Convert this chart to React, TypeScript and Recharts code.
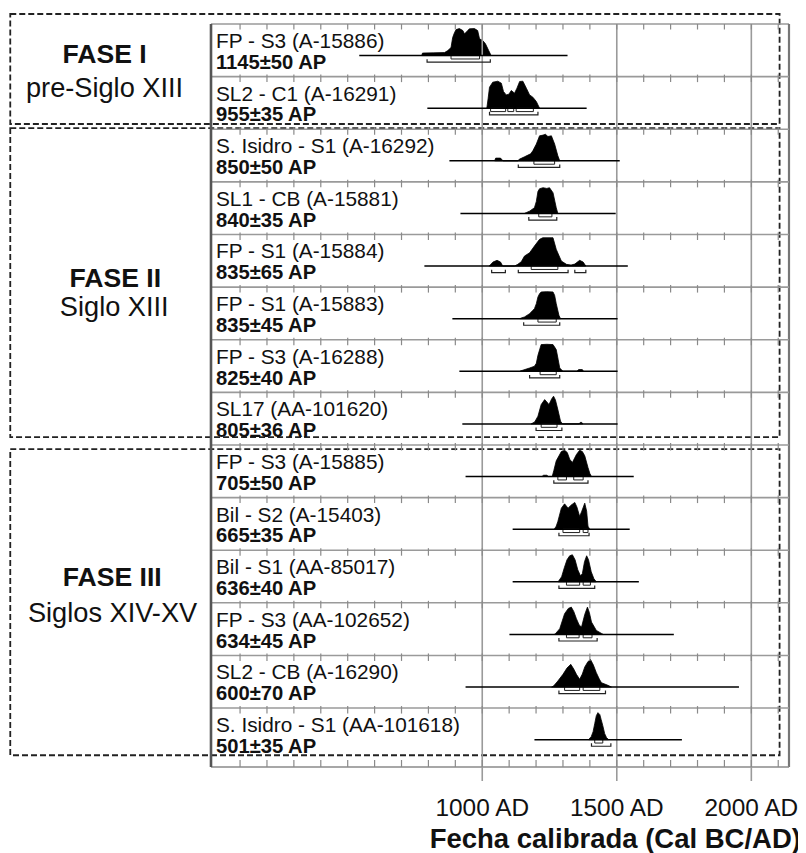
import React from 'react';
import {
  ComposedChart,
  XAxis,
  YAxis,
  Area,
  Line,
  Scatter,
  ReferenceLine,
  ReferenceArea,
} from 'recharts';

const FONT = '"Liberation Sans", Arial, Helvetica, sans-serif';

// ---------- DATA ----------
const SAMPLE_NAMES = [
  'FP - S3 (A-15886)',
  'SL2 - C1 (A-16291)',
  'S. Isidro - S1 (A-16292)',
  'SL1 - CB (A-15881)',
  'FP - S1 (A-15884)',
  'FP - S1 (A-15883)',
  'FP - S3 (A-16288)',
  'SL17 (AA-101620)',
  'FP - S3 (A-15885)',
  'Bil - S2 (A-15403)',
  'Bil - S1 (AA-85017)',
  'FP - S3 (AA-102652)',
  'SL2 - CB (A-16290)',
  'S. Isidro - S1 (AA-101618)',
];

const SAMPLE_DATES = [
  '1145±50 AP',
  '955±35 AP',
  '850±50 AP',
  '840±35 AP',
  '835±65 AP',
  '835±45 AP',
  '825±40 AP',
  '805±36 AP',
  '705±50 AP',
  '665±35 AP',
  '636±40 AP',
  '634±45 AP',
  '600±70 AP',
  '501±35 AP',
];

const PHASE_TITLES = ['FASE I', 'FASE II', 'FASE III'];
const PHASE_SUBTITLES = ['pre-Siglo XIII', 'Siglo XIII', 'Siglos XIV-XV'];

// full calibration range drawn (cal AD)
const RANGE_LINES: [number, number][] = [
  [543, 1317], [796, 1388], [878, 1511], [919, 1496], [785, 1541], [889, 1503], [915, 1503],
  [926, 1503], [938, 1563], [1113, 1548], [1113, 1582], [1101, 1712], [938, 1954], [1194, 1742],
];

// 68.2% ranges
const SIGMA1: [number, number][][] = [
  [[884, 990]],
  [[1031, 1087], [1095, 1117], [1126, 1190]],
  [[1192, 1269]],
  [[1210, 1259]],
  [[1182, 1281]],
  [[1207, 1275]],
  [[1215, 1275]],
  [[1219, 1278]],
  [[1281, 1313], [1340, 1375]],
  [[1300, 1362], [1375, 1393]],
  [[1313, 1362], [1375, 1402]],
  [[1313, 1360], [1375, 1408]],
  [[1306, 1362], [1375, 1437]],
  [[1418, 1448]],
];

// 95.4% ranges
const SIGMA2: [number, number][][] = [
  [[795, 1030]],
  [[1027, 1207]],
  [[1134, 1288]],
  [[1173, 1277]],
  [[1035, 1086], [1134, 1319], [1344, 1385]],
  [[1154, 1288]],
  [[1176, 1288]],
  [[1200, 1296]],
  [[1266, 1393]],
  [[1285, 1397]],
  [[1285, 1418]],
  [[1285, 1427]],
  [[1285, 1458]],
  [[1406, 1478]],
];

// calibrated probability distributions: [cal AD, relative probability (peak ~28)]
const DIST_0: [number, number][] = [[775,0],[778,2.5],[820,2.7],[860,3],[872,5],[884,8],[890,18],[897,23],[903,26],[915,27],[928,25],[934,21.7],[943,24],[952,26.7],[971,27],[983,25],[990,16.7],[1002,15],[1012,11.7],[1024,5],[1033,0]];
const DIST_1: [number, number][] = [[1017,0],[1022,10],[1027,21],[1039,26],[1058,27],[1071,25],[1079,16.7],[1089,13.3],[1099,14],[1108,17.7],[1120,15],[1129,20],[1139,26.7],[1151,27],[1164,20],[1176,13.3],[1188,11],[1201,6.7],[1213,0]];
const DIST_2: [number, number][] = [[1046,0],[1050,2.7],[1068,2.7],[1077,0],[1132,0],[1139,1.7],[1157,4],[1170,5.7],[1180,7],[1188,10],[1201,16.7],[1213,25],[1226,25.7],[1235,26.5],[1244,24.3],[1257,25],[1269,16.7],[1281,5],[1288,0]];
const DIST_3: [number, number][] = [[1157,0],[1165,1],[1176,2.3],[1194,5.7],[1201,12],[1207,22],[1213,24.7],[1226,25.7],[1240,25],[1250,25.7],[1263,20.7],[1270,12],[1275,5.7],[1281,0]];
const DIST_4: [number, number][] = [[1026,0],[1040,4],[1055,5.7],[1068,4],[1076,0],[1120,0],[1132,1.7],[1145,4.3],[1157,10],[1176,13.3],[1194,20],[1213,26.7],[1225,28.3],[1263,28.3],[1275,16.7],[1294,5],[1313,1.7],[1330,1],[1344,2],[1362,5.7],[1375,4],[1385,0]];
const DIST_5: [number, number][] = [[1140,0],[1145,0.7],[1157,1.7],[1176,5],[1188,8.3],[1194,10],[1201,15],[1207,21.7],[1213,25],[1219,26.7],[1240,27],[1263,26.7],[1269,23.3],[1275,15],[1285,3.3],[1291,0]];
const DIST_6: [number, number][] = [[1140,0],[1150,1],[1176,3.3],[1194,5],[1201,8],[1207,16],[1219,26.7],[1240,27],[1263,26.7],[1275,21.7],[1282,12],[1288,3.3],[1300,0],[1352,0],[1358,1.7],[1372,1.7],[1376,0]];
const DIST_7: [number, number][] = [[1182,0],[1195,2],[1207,7.7],[1219,19.3],[1232,24.3],[1240,22],[1248,19.3],[1258,25],[1265,27.7],[1272,24],[1281,14.3],[1291,2.7],[1298,0],[1360,0],[1364,1.5],[1370,1.5],[1374,0]];
const DIST_8: [number, number][] = [[1222,0],[1228,1.3],[1240,1.3],[1246,0],[1260,0],[1266,6],[1275,15.7],[1294,25],[1306,26.3],[1316,24],[1325,17.3],[1335,14],[1350,22],[1362,26.3],[1372,25],[1381,20.7],[1393,9],[1400,3],[1406,0]];
const DIST_9: [number, number][] = [[1268,0],[1275,3],[1281,7.7],[1294,21],[1306,25.3],[1319,21],[1330,24],[1344,26.7],[1352,22],[1362,12.7],[1370,18],[1381,26],[1388,18],[1393,3],[1399,0]];
const DIST_10: [number, number][] = [[1282,0],[1295,5],[1305,14],[1315,22],[1325,26],[1335,27],[1345,22],[1355,12],[1365,6],[1372,8],[1380,20],[1388,26],[1395,22],[1405,10],[1415,3],[1424,0]];
const DIST_11: [number, number][] = [[1268,0],[1273,1],[1288,5.7],[1306,20.7],[1320,26],[1331,27.3],[1340,23],[1350,15.7],[1360,9.5],[1369,7.3],[1381,20],[1391,27.3],[1398,22],[1406,12.3],[1424,4],[1443,1],[1449,0]];
const DIST_12: [number, number][] = [[1258,0],[1265,1],[1281,6],[1300,12.7],[1315,19],[1329,22.7],[1340,18],[1350,12.7],[1362,7.7],[1372,13],[1381,20],[1392,25],[1402,27.7],[1413,22],[1424,14.3],[1435,8],[1443,4.3],[1467,1.7],[1480,0]];
const DIST_13: [number, number][] = [[1395,0],[1405,3],[1412,8],[1418,16],[1424,24],[1430,27],[1437,25],[1442,20],[1448,14],[1455,6],[1462,2],[1470,0]];

const DISTS = [DIST_0, DIST_1, DIST_2, DIST_3, DIST_4, DIST_5, DIST_6, DIST_7, DIST_8, DIST_9, DIST_10, DIST_11, DIST_12, DIST_13];

const AXIS_TICKS = [1000, 1500, 2000];
const MINOR_TICKS = [100, 200, 300, 400, 500, 600, 700, 800, 900, 1000, 1100, 1200, 1300, 1400, 1500, 1600, 1700, 1800, 1900, 2000, 2100];

// ---------- LAYOUT / STYLE ----------
const X_DOMAIN: [number, number] = [-8, 2140];
const ROW_COUNT = SAMPLE_NAMES.length;
const Y_MAX = 14.12;
const ROW_PX = 52.62;
const PX = 1 / ROW_PX;
const BASE = 0.6;
const rowBase = (i: number) => i + BASE;

// phase dashed boxes (x in cal AD scale, y in row units) and label placement
const PHASE_BOX_X: [number, number] = [-754, 2105];
const PHASE_BOX_Y: [number, number][] = [[-0.19, 1.9], [1.977, 7.852], [8.08, 13.897]];
const PHASE_LABEL_POS = [
  { dx1: 94.3, dx2: 94.3, dy1: 49.3, dy2: 82.7 },
  { dx1: 105, dx2: 104, dy1: 159.3, dy2: 188 },
  { dx1: 102, dx2: 102.3, dy1: 137, dy2: 172.7 },
];

const GRID = '#9a9a9a';
const INK = '#111';

const ROW_INDEX = SAMPLE_NAMES.map((_, i) => i);
const TICK_POINTS = ROW_INDEX.flatMap((r) => MINOR_TICKS.map((x) => ({ x, y: r })));
const BOTTOM_TICK_POINTS = MINOR_TICKS.map((x) => ({ x, y: Y_MAX }));

const TickDown = (p: any) => (
  <line x1={p.cx} x2={p.cx} y1={p.cy - (p.payload && p.payload.y === 0 ? 0 : 2)} y2={p.cy + 5.5} stroke="#8a8a8a" strokeWidth={1.2} />
);
const TickUp = (p: any) => (
  <line x1={p.cx} x2={p.cx} y1={p.cy - 7} y2={p.cy} stroke="#8a8a8a" strokeWidth={1.2} />
);

const RowLabel = (props: any) => {
  const { x, y, payload } = props;
  const i = payload.value as number;
  if (i < 0 || i >= ROW_COUNT) return null;
  return (
    <g>
      <text x={x + 5} y={y + 24} fontSize={20.8} fontFamily={FONT} fill={INK}>
        {SAMPLE_NAMES[i]}
      </text>
      <text x={x + 5} y={y + 44.8} fontSize={20.2} fontWeight="bold" fontFamily={FONT} fill={INK}>
        {SAMPLE_DATES[i]}
      </text>
    </g>
  );
};

const XTick = (props: any) => {
  const { x, y, payload } = props;
  return (
    <text x={x} y={y + 33} textAnchor="middle" fontSize={24.4} fontFamily={FONT} fill={INK}>
      {`${payload.value} AD`}
    </text>
  );
};

const AxisTitle = (props: any) => {
  const vb = props.viewBox || {};
  return (
    <text x={vb.x + vb.width + 12} y={vb.y + 81} textAnchor="end" fontSize={27.5} fontWeight="bold" fontFamily={FONT} fill={INK}>
      Fecha calibrada (Cal BC/AD)
    </text>
  );
};

const PhaseLabel = (props: any) => {
  const vb = props.viewBox || {};
  const { idx } = props;
  const pos = PHASE_LABEL_POS[idx];
  return (
    <g>
      <text x={vb.x + pos.dx1} y={vb.y + pos.dy1} textAnchor="middle" fontSize={26.6} fontWeight="bold" fontFamily={FONT} fill={INK}>
        {PHASE_TITLES[idx]}
      </text>
      <text x={vb.x + pos.dx2} y={vb.y + pos.dy2} textAnchor="middle" fontSize={27.2} fontFamily={FONT} fill={INK}>
        {PHASE_SUBTITLES[idx]}
      </text>
    </g>
  );
};

const distData = (i: number) =>
  DISTS[i].map(([x, p]) => ({ x, band: [rowBase(i), rowBase(i) - p * PX] }));

export default function App() {
  return (
    <div style={{ width: 798, height: 845, fontFamily: FONT }}>
      <ComposedChart width={798} height={845} margin={{ top: 16, right: 17, bottom: 0, left: 203 }}>
        <XAxis
          type="number"
          dataKey="x"
          domain={X_DOMAIN}
          allowDataOverflow
          ticks={AXIS_TICKS}
          height={86}
          tickSize={14}
          tickLine={{ stroke: GRID, strokeWidth: 1.6 }}
          axisLine={{ stroke: '#8a8a8a', strokeWidth: 1.6 }}
          tick={<XTick />}
          label={<AxisTitle />}
        />
        <YAxis
          type="number"
          dataKey="y"
          domain={[0, Y_MAX]}
          reversed
          allowDataOverflow
          ticks={ROW_INDEX}
          interval={0}
          width={1}
          mirror
          tickSize={0}
          tickMargin={0}
          tickLine={false}
          axisLine={{ stroke: '#555', strokeWidth: 2.6 }}
          tick={<RowLabel />}
        />

        {/* frame + grid */}
        <ReferenceLine y={0} stroke={GRID} strokeWidth={1.6} />
        <ReferenceLine x={X_DOMAIN[1]} stroke="#777" strokeWidth={2.2} />
        {ROW_INDEX.slice(1).map((r) => (
          <ReferenceLine key={`sep${r}`} y={r} stroke={GRID} strokeWidth={1.6} />
        ))}
        {AXIS_TICKS.map((t) => (
          <ReferenceLine key={`g${t}`} x={t} stroke={GRID} strokeWidth={1.6} />
        ))}

        <Scatter data={TICK_POINTS} shape={TickDown} isAnimationActive={false} />
        <Scatter data={BOTTOM_TICK_POINTS} shape={TickUp} isAnimationActive={false} />

        {/* calibration range lines */}
        {RANGE_LINES.map(([a, b], i) => (
          <Line
            key={`rl${i}`}
            data={[{ x: a, y: rowBase(i) }, { x: b, y: rowBase(i) }]}
            dataKey="y"
            type="linear"
            stroke="#000"
            strokeWidth={1.5}
            dot={false}
            activeDot={false}
            isAnimationActive={false}
          />
        ))}

        {/* probability distributions */}
        {ROW_INDEX.map((i) => (
          <Area
            key={`d${i}`}
            data={distData(i)}
            dataKey="band"
            type="linear"
            stroke="#000"
            strokeWidth={0.8}
            fill="#000"
            fillOpacity={1}
            dot={false}
            activeDot={false}
            isAnimationActive={false}
          />
        ))}

        {/* 68.2% boxes */}
        {SIGMA1.flatMap((ranges, i) =>
          ranges.map(([a, b], k) => (
            <ReferenceArea
              key={`s1-${i}-${k}`}
              x1={a}
              x2={b}
              y1={rowBase(i)}
              y2={rowBase(i) + 3.4 * PX}
              fill="#fff"
              fillOpacity={1}
              stroke="#222"
              strokeWidth={1}
            />
          ))
        )}

        {/* 95.4% brackets */}
        {SIGMA2.flatMap((ranges, i) =>
          ranges.map(([a, b], k) => (
            <Line
              key={`s2-${i}-${k}`}
              data={[
                { x: a, y: rowBase(i) + 3.6 * PX },
                { x: a, y: rowBase(i) + 6.6 * PX },
                { x: b, y: rowBase(i) + 6.6 * PX },
                { x: b, y: rowBase(i) + 3.6 * PX },
              ]}
              dataKey="y"
              type="linear"
              stroke="#222"
              strokeWidth={1.2}
              dot={false}
              activeDot={false}
              isAnimationActive={false}
            />
          ))
        )}

        {/* phase boxes */}
        {PHASE_BOX_Y.map(([y1, y2], idx) => (
          <ReferenceArea
            key={`ph${idx}`}
            x1={PHASE_BOX_X[0]}
            x2={PHASE_BOX_X[1]}
            y1={y1}
            y2={y2}
            ifOverflow="visible"
            fill="none"
            fillOpacity={0}
            stroke="#222"
            strokeWidth={1.8}
            strokeDasharray="6 3"
            label={<PhaseLabel idx={idx} />}
          />
        ))}
      </ComposedChart>
    </div>
  );
}
